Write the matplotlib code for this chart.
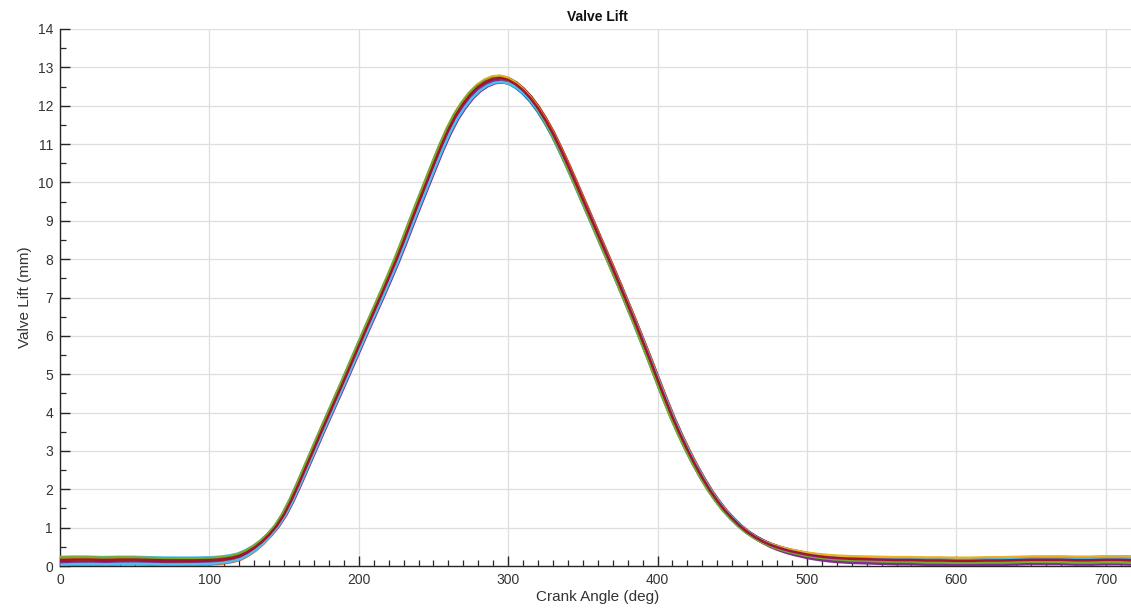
import numpy as np
import matplotlib
matplotlib.use("Agg")
import matplotlib.pyplot as plt
from matplotlib.ticker import MultipleLocator

plt.rcParams['font.family'] = ['Liberation Sans', 'DejaVu Sans']

# Mean valve-lift profile (crank angle in deg, lift in mm)
angle_deg = [0, 10, 20, 30, 40, 50, 60, 70, 80, 90,
             100, 105, 110, 115, 120, 125, 130, 135, 140, 145,
             150, 155, 160, 165, 170, 175, 180, 185, 190, 195,
             200, 205, 210, 215, 220, 225, 230, 235, 240, 245,
             250, 255, 260, 265, 270, 275, 280, 285, 290, 295,
             300, 305, 310, 315, 320, 325, 330, 335, 340, 345,
             350, 355, 360, 365, 370, 375, 380, 385, 390, 395,
             400, 405, 410, 415, 420, 425, 430, 435, 440, 445,
             450, 455, 460, 465, 470, 475, 480, 485, 490, 495,
             500, 505, 510, 515, 520, 530, 540, 550, 560, 570,
             580, 590, 600, 610, 620, 630, 640, 650, 660, 670,
             680, 690, 700, 710, 720]
lift_mm = [0.15, 0.16, 0.16, 0.15, 0.16, 0.16, 0.15, 0.14, 0.14, 0.14,
           0.15, 0.16, 0.18, 0.21, 0.26, 0.35, 0.47, 0.62, 0.81, 1.04,
           1.34, 1.72, 2.15, 2.60, 3.05, 3.50, 3.94, 4.38, 4.82, 5.27,
           5.72, 6.17, 6.61, 7.05, 7.50, 7.96, 8.45, 8.96, 9.46, 9.95,
           10.44, 10.92, 11.36, 11.74, 12.04, 12.29, 12.48, 12.61, 12.69, 12.71,
           12.66, 12.55, 12.39, 12.18, 11.92, 11.61, 11.26, 10.86, 10.44, 10.00,
           9.55, 9.10, 8.65, 8.20, 7.75, 7.29, 6.82, 6.35, 5.86, 5.37,
           4.86, 4.36, 3.88, 3.44, 3.03, 2.65, 2.30, 1.98, 1.70, 1.45,
           1.24, 1.05, 0.89, 0.76, 0.65, 0.56, 0.49, 0.43, 0.38, 0.34,
           0.30, 0.27, 0.245, 0.225, 0.21, 0.19, 0.18, 0.17, 0.16, 0.16,
           0.15, 0.15, 0.14, 0.14, 0.15, 0.15, 0.16, 0.17, 0.17, 0.17,
           0.16, 0.16, 0.17, 0.17, 0.16]

# Cycle-to-cycle variation of the measured curves
cycle_shift_deg = [-1.2, 0.8, -0.4, 1.5, 0.2, -1.0, 0.6, -0.2, 1.1, -0.7,
                   0.4, -1.4, 0.9, 0.0]
cycle_gain = [1.000, 0.995, 1.003, 0.992, 1.005, 0.998, 1.004, 0.994, 1.000,
              1.006, 0.997, 1.002, 0.993, 1.001]
cycle_offset_start_mm = [0.04, -0.12, 0.08, -0.06, 0.00, 0.10, -0.03, 0.06,
                         -0.15, 0.02, -0.09, 0.09, -0.13, 0.01]
cycle_offset_end_mm = [-0.05, 0.06, -0.13, 0.09, -0.10, 0.03, 0.08, -0.07,
                       0.01, 0.10, -0.15, -0.09, 0.05, -0.01]

line_colors = ['#0072BD', '#D95319', '#EDB120', '#7E2F8E', '#77AC30',
               '#4DBEEE', '#A2142F']

x_ticks = [0, 100, 200, 300, 400, 500, 600, 700]
y_ticks = list(range(0, 15))

fig = plt.figure(figsize=(11.31, 6.15), dpi=100)
ax = fig.add_axes([60 / 1131, 49 / 615, 1075.5 / 1131, 537 / 615])

base_a = np.array(angle_deg, dtype=float)
base_l = np.array(lift_mm, dtype=float)
for i in range(len(cycle_shift_deg)):
    s = cycle_shift_deg[i]
    g = cycle_gain[i]
    o0 = cycle_offset_start_mm[i]
    o1 = cycle_offset_end_mm[i]
    offset = o0 + (o1 - o0) * base_a / 720.0
    # baseline offsets only matter where the valve is (nearly) closed
    weight = np.clip(1.0 - base_l, 0.0, 1.0)
    y = g * base_l + offset * weight
    ax.plot(base_a + s, y, color=line_colors[i % len(line_colors)],
            lw=1.8, zorder=3, solid_capstyle='round', solid_joinstyle='round')

ax.set_xlim(0, 720)
ax.set_ylim(0, 14)
ax.set_xticks(x_ticks)
ax.set_yticks(y_ticks)
ax.xaxis.set_minor_locator(MultipleLocator(10))
ax.yaxis.set_minor_locator(MultipleLocator(0.5))

ax.grid(True, which='major', color='#dedede', lw=0.9)
ax.set_axisbelow(True)
for side in ('top', 'right'):
    ax.spines[side].set_visible(False)
for side in ('left', 'bottom'):
    ax.spines[side].set_color('#262626')
    ax.spines[side].set_linewidth(1.0)

ax.tick_params(which='major', direction='in', length=7.5, width=1.0,
               color='#262626', labelsize=10, labelcolor='#333333', pad=5)
ax.tick_params(which='minor', direction='in', length=4.0, width=0.9,
               color='#262626')

ax.set_xlabel('Crank Angle (deg)', fontsize=11, color='#333333', labelpad=2)
ax.set_ylabel('Valve Lift (mm)', fontsize=11, color='#333333', labelpad=4)
ax.set_title('Valve Lift', fontsize=10, fontweight='bold', color='#111111',
             pad=6)

fig.savefig('out.png', dpi=100)
